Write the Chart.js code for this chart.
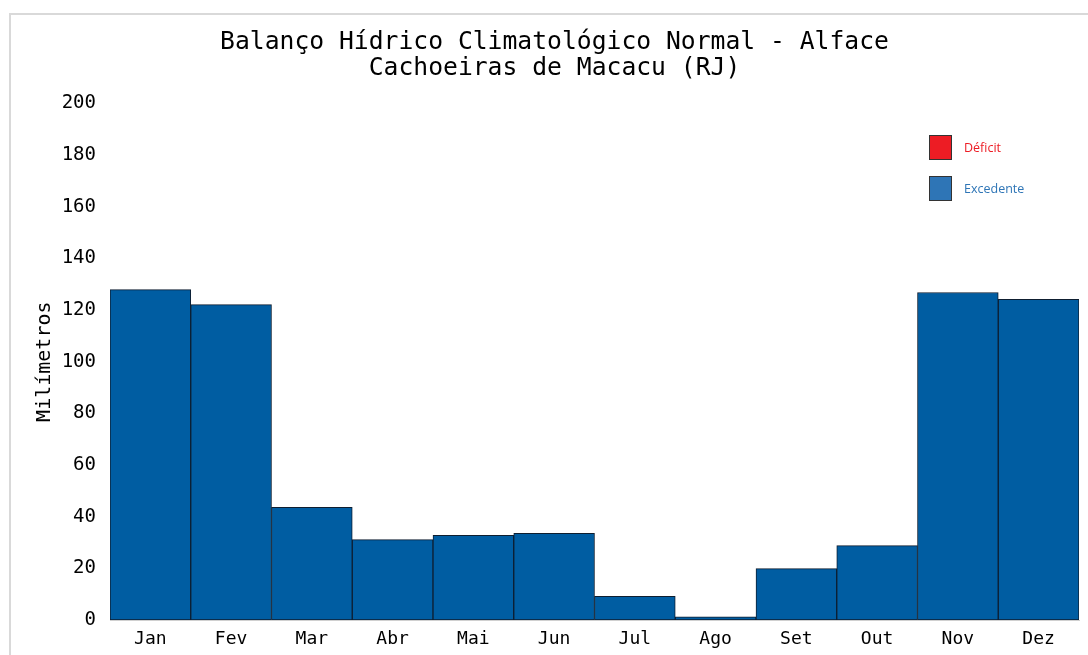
<!DOCTYPE html>
<html>
<head>
<meta charset="utf-8">
<script src="https://cdn.jsdelivr.net/npm/chart.js@4.4.1/dist/chart.umd.min.js"></script>
<style>
  html, body { margin: 0; padding: 0; background: #fff; overflow: hidden; }
  #frame { position: absolute; left: 9px; top: 13px; width: 1200px; height: 800px;
           border-left: 2px solid #d9d9d9; border-top: 2px solid #d9d9d9; }
  #wrap { position: absolute; left: 0; top: 0; width: 1088px; height: 655px; }
</style>
</head>
<body>
<div id="frame"></div>
<div id="wrap"><canvas id="c" width="1088" height="655"></canvas></div>
<script>
const months = ['Jan','Fev','Mar','Abr','Mai','Jun','Jul','Ago','Set','Out','Nov','Dez'];
const excedente = [127.9, 122.1, 43.6, 31.1, 32.8, 33.6, 9.2, 1.2, 19.9, 28.8, 126.8, 124.1];
const deficit = [0, 0, 0, 0, 0, 0, 0, 0, 0, 0, 0, 0];
const titleLines = ['Balanço Hídrico Climatológico Normal - Alface', 'Cachoeiras de Macacu (RJ)'];
const yTitle = 'Milímetros';
const legendItems = [
  { label: 'Déficit', box: '#ED1C24', text: '#ED1C24' },
  { label: 'Excedente', box: '#2E75B6', text: '#2E75B6' }
];

const mono = "'DejaVu Sans Mono', 'Liberation Mono', monospace";

const legendPlugin = {
  id: 'customLegend',
  afterDraw(chart) {
    const ctx = chart.ctx;
    ctx.save();
    legendItems.forEach((it, i) => {
      const x = 929, y = 135 + i * 41;
      ctx.fillStyle = it.box;
      ctx.fillRect(x, y, 23, 25);
      ctx.strokeStyle = '#333';
      ctx.lineWidth = 1;
      ctx.strokeRect(x + 0.5, y + 0.5, 22, 24);
      ctx.fillStyle = it.text;
      ctx.font = "12.5px 'Open Sans', 'Liberation Sans', sans-serif";
      ctx.textBaseline = 'middle';
      ctx.textAlign = 'left';
      ctx.fillText(it.label, 964, y + 13);
    });
    ctx.restore();
  }
};

new Chart(document.getElementById('c'), {
  type: 'bar',
  data: {
    labels: months,
    datasets: [
      { label: 'Excedente', data: excedente, backgroundColor: '#005DA2', borderColor: '#0e1e30', borderWidth: 1, borderSkipped: false },
      { label: 'Déficit', data: deficit, backgroundColor: '#ED1C24', borderWidth: 0, hidden: true }
    ]
  },
  plugins: [legendPlugin],
  options: {
    responsive: false,
    animation: false,
    devicePixelRatio: 1,
    layout: { padding: { left: 30, right: 9, top: 0, bottom: 0 } },
    datasets: { bar: { categoryPercentage: 1.0, barPercentage: 1.0 } },
    plugins: {
      legend: { display: false },
      tooltip: { enabled: false },
      title: {
        display: true,
        text: titleLines,
        color: '#000',
        font: { family: mono, size: 24.7, weight: 'normal', lineHeight: 1.04 },
        padding: { top: 30, bottom: 22 }
      }
    },
    scales: {
      x: {
        stacked: true,
        grid: { display: false, drawTicks: false },
        border: { display: true, color: '#d0d0d0', width: 1 },
        ticks: { color: '#000', font: { family: mono, size: 18 }, padding: 9 },
        afterFit(s) { s.height = 35; }
      },
      y: {
        stacked: true,
        min: 0, max: 200,
        grid: { display: false, drawTicks: false },
        border: { display: false },
        ticks: { stepSize: 20, color: '#000', font: { family: mono, size: 19 }, padding: 14 },
        title: { display: true, text: yTitle, color: '#000', font: { family: mono, size: 20 }, padding: { top: 3, bottom: 0 } },
        afterFit(s) { s.width = 80; }
      }
    }
  }
});
</script>
</body>
</html>
